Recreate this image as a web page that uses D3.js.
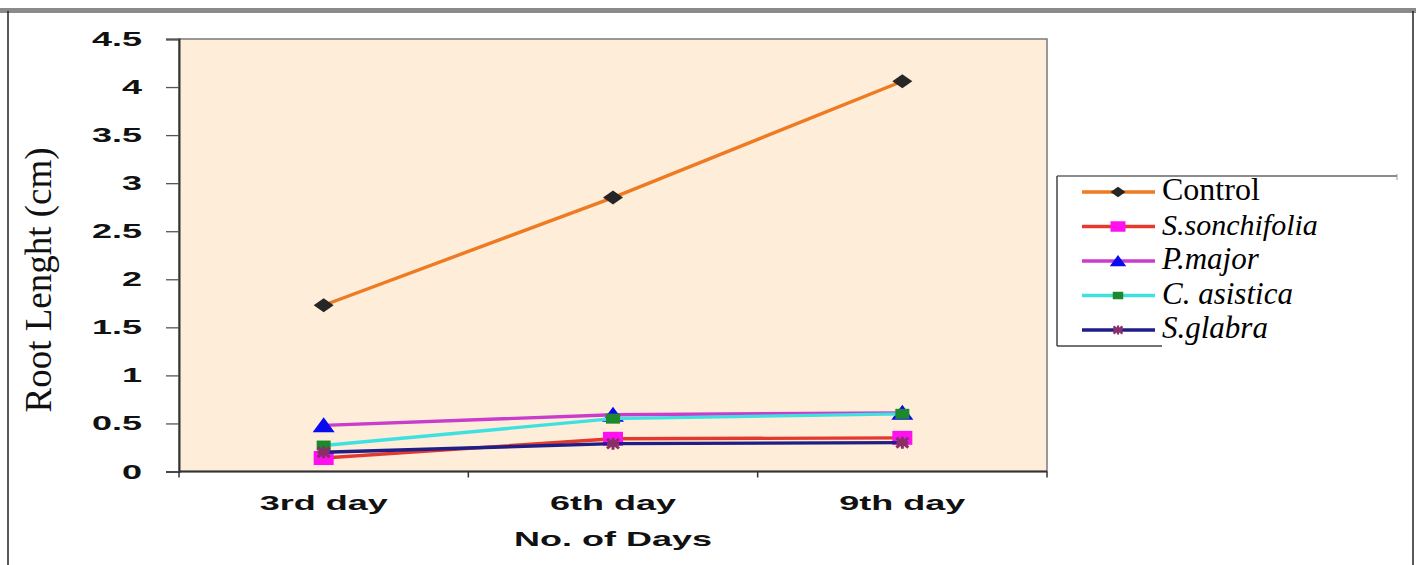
<!DOCTYPE html>
<html>
<head>
<meta charset="utf-8">
<script src="https://cdn.jsdelivr.net/npm/d3@7"></script>
<style>
  html, body { margin: 0; padding: 0; background: #fff; }
  svg { display: block; }
</style>
</head>
<body>
<svg id="chart" width="1416" height="565"></svg>
<script>
// Root length over days for the control and four plant extracts
const days = ["3rd day", "6th day", "9th day"];
const yTicks = [0, 0.5, 1, 1.5, 2, 2.5, 3, 3.5, 4, 4.5];
const seriesNames = ["Control", "S.sonchifolia", "P.major", "C. asistica", "S.glabra"];
const control = [1.73, 2.85, 4.06];
const sSonchifolia = [0.14, 0.34, 0.35];
const pMajor = [0.48, 0.59, 0.61];
const cAsistica = [0.27, 0.55, 0.60];
const sGlabra = [0.20, 0.29, 0.30];

const seriesValues = [control, sSonchifolia, pMajor, cAsistica, sGlabra];
const lineColors = ["#ee7a22", "#e23a2e", "#c93ccc", "#3fe0e0", "#1e1e86"];
const markerColors = ["#262626", "#ff10f0", "#0a0af0", "#1c8a2c", "#8a2e6a"];
const markerKinds = ["diamond", "square", "triangle", "smallsquare", "star"];

const svg = d3.select("#chart");
const plot = { left: 179, right: 1047, top: 39, bottom: 471.5 };

const x = d3.scaleBand().domain(days).range([plot.left, plot.right]);
const y = d3.scaleLinear().domain([0, 4.5]).range([plot.bottom, plot.top]);
const cx = d => x(d) + x.bandwidth() / 2;

// Outer frame
svg.append("rect").attr("x", 0).attr("y", 8).attr("width", 1416).attr("height", 5).attr("fill", "#8a8a8a");
svg.append("line").attr("x1", 8).attr("x2", 8).attr("y1", 11).attr("y2", 565).attr("stroke", "#222").attr("stroke-width", 1.5);
svg.append("line").attr("x1", 1413).attr("x2", 1413).attr("y1", 11).attr("y2", 565).attr("stroke", "#222").attr("stroke-width", 1.5);

// Plot background
svg.append("rect")
  .attr("x", plot.left).attr("y", plot.top)
  .attr("width", plot.right - plot.left).attr("height", plot.bottom - plot.top)
  .attr("fill", "#fdedd9")
  .attr("stroke", "#7a7a7a").attr("stroke-width", 1.5);

// Y axis
const yAxis = svg.append("g").attr("transform", `translate(${plot.left},0)`)
  .call(d3.axisLeft(y).tickValues(yTicks).tickSize(13).tickFormat(""));
yAxis.select(".domain").attr("stroke", "#333").attr("stroke-width", 2);
yAxis.selectAll(".tick line").attr("stroke", "#555").attr("stroke-width", 1.3);

const sansBold = "'Liberation Sans', Arial, sans-serif";
const stretch = 1.8;
const sansSize = 20;
yTicks.forEach(v => {
  svg.append("text")
    .attr("transform", `translate(142,${y(v) + 7}) scale(${stretch},1)`)
    .attr("text-anchor", "end")
    .attr("font-family", sansBold).attr("font-weight", "bold").attr("font-size", sansSize)
    .attr("fill", "#111")
    .text(v);
});

// X axis: tick marks at category boundaries
const xAxis = svg.append("g").attr("transform", `translate(0,${plot.bottom})`);
xAxis.append("line").attr("x1", plot.left).attr("x2", plot.right).attr("stroke", "#333").attr("stroke-width", 2);
const bounds = days.map(d => x(d)).concat([plot.right]);
xAxis.selectAll("line.tick").data(bounds).enter().append("line")
  .attr("class", "tick")
  .attr("x1", d => d).attr("x2", d => d).attr("y1", 0).attr("y2", 6)
  .attr("stroke", "#333").attr("stroke-width", 1.5);
days.forEach(d => {
  svg.append("text")
    .attr("transform", `translate(${cx(d)},510) scale(${stretch},1)`)
    .attr("text-anchor", "middle")
    .attr("font-family", sansBold).attr("font-weight", "bold").attr("font-size", sansSize)
    .attr("fill", "#111")
    .text(d);
});

// Axis titles
svg.append("text")
  .attr("transform", `translate(${(plot.left + plot.right) / 2},546) scale(${stretch},1)`)
  .attr("text-anchor", "middle")
  .attr("font-family", sansBold).attr("font-weight", "bold").attr("font-size", sansSize)
  .attr("fill", "#111")
  .text("No. of Days");

svg.append("text")
  .attr("transform", "translate(51,280) rotate(-90)")
  .attr("text-anchor", "middle")
  .attr("font-family", "'Liberation Serif', 'Times New Roman', serif")
  .attr("font-size", 37)
  .attr("fill", "#111")
  .text("Root Lenght (cm)");

// Marker shapes
function drawMarker(g, kind, color, px, py, s) {
  if (kind === "diamond") {
    g.append("path")
      .attr("d", `M${px - 10 * s},${py} L${px},${py - 7 * s} L${px + 10 * s},${py} L${px},${py + 7 * s} Z`)
      .attr("fill", color);
  } else if (kind === "square") {
    g.append("rect").attr("x", px - 10 * s).attr("y", py - 7 * s)
      .attr("width", 20 * s).attr("height", 14 * s).attr("fill", color);
  } else if (kind === "triangle") {
    g.append("path")
      .attr("d", `M${px - 11 * s},${py + 7 * s} L${px},${py - 8 * s} L${px + 11 * s},${py + 7 * s} Z`)
      .attr("fill", color);
  } else if (kind === "smallsquare") {
    g.append("rect").attr("x", px - 7 * s).attr("y", py - 5 * s)
      .attr("width", 14 * s).attr("height", 10 * s).attr("fill", color);
  } else if (kind === "star") {
    const r = 6 * s;
    g.append("path")
      .attr("d", `M${px - r},${py - r * 0.8} L${px + r},${py + r * 0.8} M${px - r},${py + r * 0.8} L${px + r},${py - r * 0.8} M${px - r},${py} L${px + r},${py} M${px},${py - r} L${px},${py + r}`)
      .attr("stroke", color).attr("stroke-width", 3 * s).attr("fill", "none");
  }
}

// Series lines and markers
const line = d3.line().x((v, i) => cx(days[i])).y(v => y(v));
seriesValues.forEach((vals, k) => {
  const g = svg.append("g");
  g.append("path").datum(vals).attr("d", line)
    .attr("fill", "none").attr("stroke", lineColors[k]).attr("stroke-width", 3.4);
  vals.forEach((v, i) => drawMarker(g, markerKinds[k], markerColors[k], cx(days[i]), y(v), 1));
});

// Legend
const legend = svg.append("g");
legend.append("line").attr("x1", 1057).attr("x2", 1397).attr("y1", 176).attr("y2", 176).attr("stroke", "#666").attr("stroke-width", 1.5);
legend.append("line").attr("x1", 1057).attr("x2", 1057).attr("y1", 176).attr("y2", 346).attr("stroke", "#444").attr("stroke-width", 1.5);
legend.append("line").attr("x1", 1057).attr("x2", 1162).attr("y1", 346).attr("y2", 346).attr("stroke", "#444").attr("stroke-width", 1.5);
legend.append("line").attr("x1", 1397).attr("x2", 1397).attr("y1", 174).attr("y2", 180).attr("stroke", "#999").attr("stroke-width", 1);

const rowY = [192, 226.5, 261, 295.5, 330];
const fontSizes = [32, 30, 31, 31, 31];
seriesNames.forEach((name, k) => {
  const ry = rowY[k];
  legend.append("line").attr("x1", 1082).attr("x2", 1155).attr("y1", ry).attr("y2", ry)
    .attr("stroke", lineColors[k]).attr("stroke-width", 3.4);
  drawMarker(legend, markerKinds[k], markerColors[k], 1118, ry, 0.75);
  legend.append("text")
    .attr("x", 1162).attr("y", ry + 8)
    .attr("font-family", "'Liberation Serif', 'Times New Roman', serif")
    .attr("font-size", fontSizes[k])
    .attr("font-style", k === 0 ? "normal" : "italic")
    .attr("fill", "#000")
    .text(name);
});
</script>
</body>
</html>
